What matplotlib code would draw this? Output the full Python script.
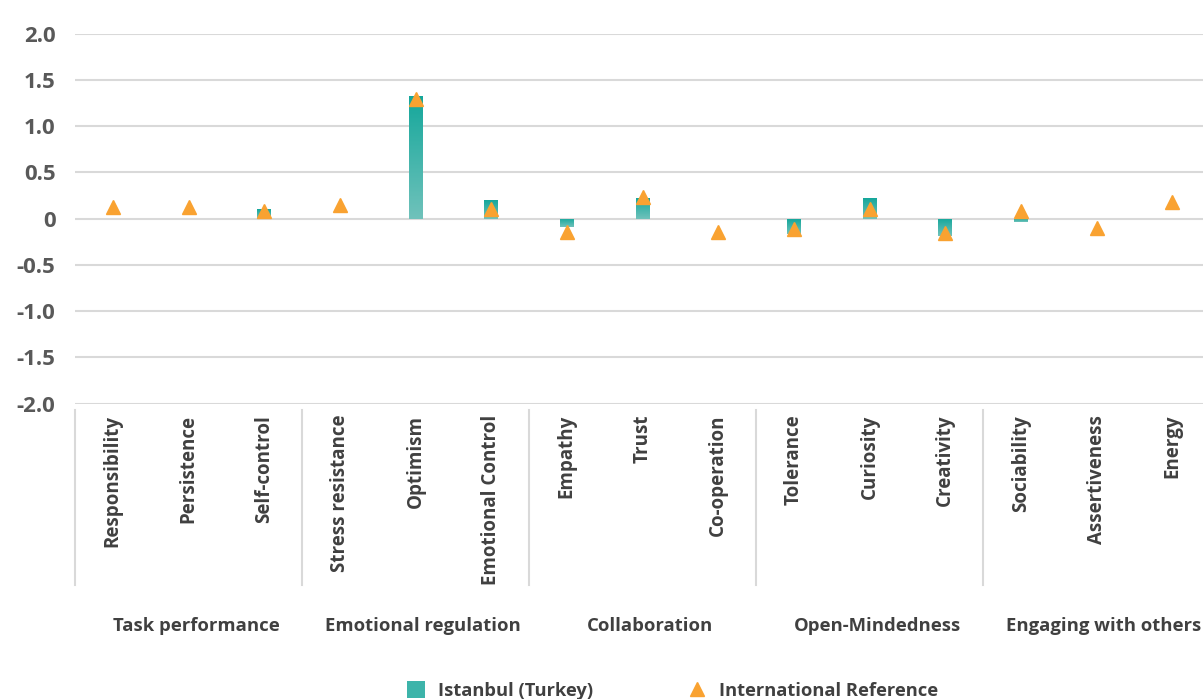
import matplotlib
matplotlib.use("Agg")
import matplotlib.pyplot as plt
import numpy as np
from matplotlib.colors import LinearSegmentedColormap
from matplotlib.patches import Patch
from matplotlib.lines import Line2D

plt.rcParams['font.family'] = ['Open Sans', 'DejaVu Sans']

categories = ["Responsibility", "Persistence", "Self-control",
              "Stress resistance", "Optimism", "Emotional Control",
              "Empathy", "Trust", "Co-operation",
              "Tolerance", "Curiosity", "Creativity",
              "Sociability", "Assertiveness", "Energy"]
groups = ["Task performance", "Emotional regulation", "Collaboration",
          "Open-Mindedness", "Engaging with others"]
group_sizes = [3, 3, 3, 3, 3]
istanbul = [np.nan, np.nan, 0.10,
            np.nan, 1.33, 0.20,
            -0.09, 0.22, np.nan,
            -0.16, 0.22, -0.19,
            -0.04, np.nan, np.nan]
international = [0.13, 0.13, 0.08,
                 0.15, 1.29, 0.11,
                 -0.14, 0.23, -0.14,
                 -0.11, 0.11, -0.15,
                 0.08, -0.10, 0.18]
yticks = [-2.0, -1.5, -1.0, -0.5, 0, 0.5, 1.0, 1.5, 2.0]
ytick_labels = ["-2.0", "-1.5", "-1.0", "-0.5", "0", "0.5", "1.0", "1.5", "2.0"]

TEXT = "#404040"
TEAL_DARK = "#14a79b"
TEAL_LIGHT = "#70c2bb"
ORANGE = "#f9a231"
GRID = "#d9d9d9"

fig = plt.figure(figsize=(12.03, 6.99), dpi=100)
W, H = 1203, 699
ax = fig.add_axes([75 / W, 1 - 403.7 / H, (1210 - 75) / W, (403.7 - 33.7) / H])

x = np.arange(len(categories))
width = 0.18
cmap = LinearSegmentedColormap.from_list("teal", [TEAL_LIGHT, TEAL_DARK])
grad = np.linspace(0, 1, 256).reshape(-1, 1)

bars = ax.bar(x, np.nan_to_num(istanbul), width=width, facecolor="none",
              edgecolor="none", zorder=3)
for xi, v, b in zip(x, istanbul, bars):
    if np.isnan(v):
        continue
    lo, hi = min(0, v), max(0, v)
    im = ax.imshow(grad, extent=[xi - width / 2, xi + width / 2, lo, hi],
                   origin="lower", aspect="auto", cmap=cmap, zorder=3)
    im.set_clip_path(b)

ax.plot(x, international, linestyle="none", marker="^", markersize=10,
        color=ORANGE, zorder=4)

ax.set_xlim(-0.5, len(categories) - 0.5)
ax.set_ylim(-2.0, 2.0)
ax.set_yticks(yticks)
ax.set_yticklabels(ytick_labels, fontsize=16, fontweight="bold", color="#595959")
ax.yaxis.grid(True, color=GRID, linewidth=1.5)
ax.set_axisbelow(True)
ax.tick_params(axis="y", length=0, pad=14)
ax.set_xticks(x)
ax.set_xticklabels(categories, rotation=90, fontsize=13.5, fontweight="bold",
                   color=TEXT)
ax.tick_params(axis="x", length=0, pad=8)
for s in ax.spines.values():
    s.set_visible(False)

trans = ax.get_xaxis_transform()
bounds = np.concatenate([[0], np.cumsum(group_sizes)]) - 0.5
for bx in bounds[:-1]:
    ax.plot([bx, bx], [-0.017, -0.49], transform=trans, color=GRID,
            linewidth=1.5, clip_on=False)
for i, g in enumerate(groups):
    cx = (bounds[i] + bounds[i + 1]) / 2 + 0.1
    ax.text(cx, -0.601, g, transform=trans, ha="center", va="center",
            fontsize=13.3, fontweight="bold", color=TEXT)

handles = [Patch(facecolor="#3db4aa", edgecolor="none"),
           Line2D([], [], linestyle="none", marker="^", markersize=10, color=ORANGE)]
fig.legend(handles, ["Istanbul (Turkey)", "International Reference"],
           loc="center", bbox_to_anchor=(0.559, 0.012), ncol=2, frameon=False,
           prop={"size": 13.2, "weight": "bold"}, labelcolor=TEXT,
           columnspacing=5.2, handlelength=1.0, handleheight=1.0, handletextpad=0.7)

fig.savefig("out.png", dpi=100)
